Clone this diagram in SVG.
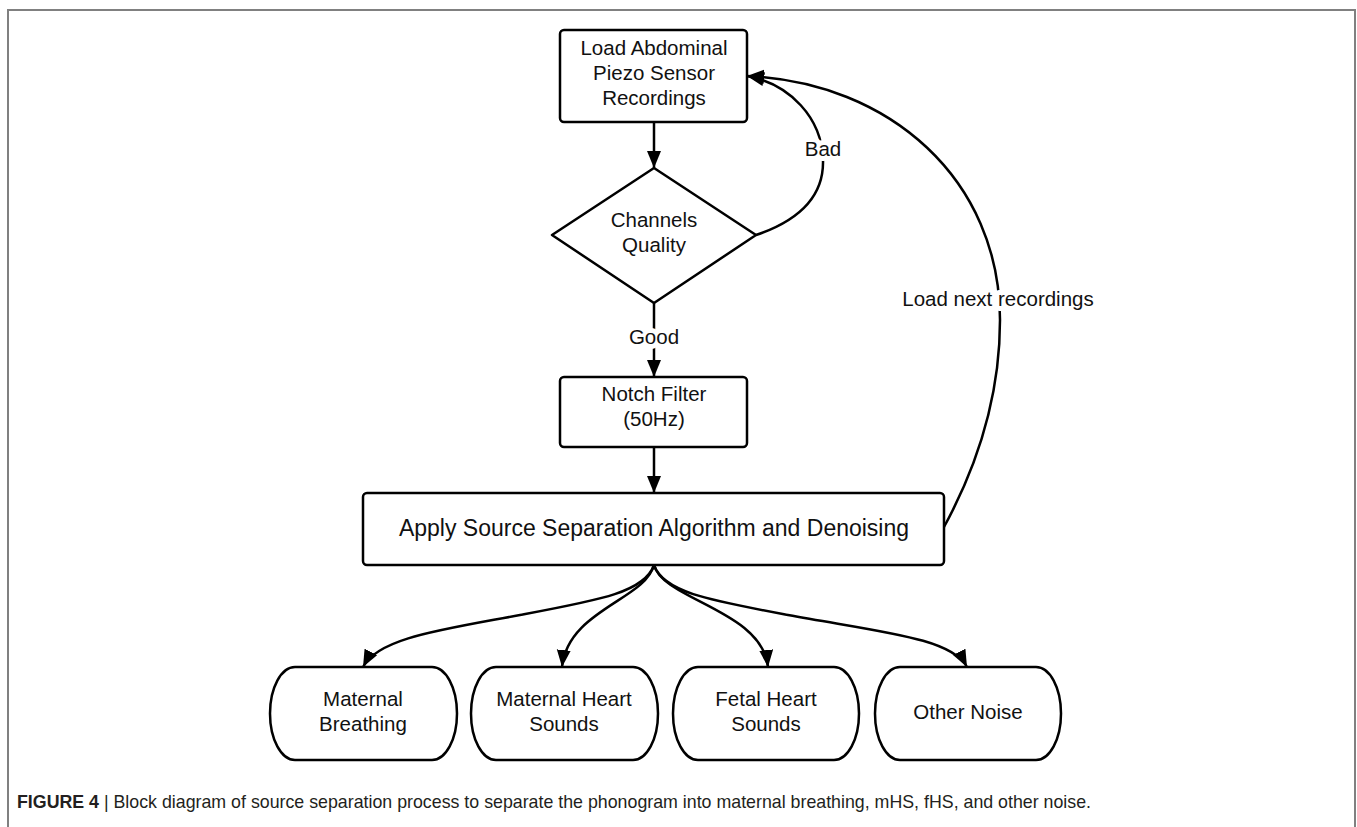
<svg xmlns="http://www.w3.org/2000/svg" width="1357" height="827" viewBox="0 0 1357 827">
<style>
.box{fill:#fff;stroke:#000;stroke-width:2.5;stroke-linejoin:round}
.t{font-family:"Liberation Sans",Arial,sans-serif;font-size:20.5px;fill:#111;text-anchor:middle}
.lbl{paint-order:stroke;stroke:#fff;stroke-width:10px;stroke-linejoin:round}
.c{fill:none;stroke:#000;stroke-width:2.5}
.frame{fill:none;stroke:#808080;stroke-width:2}
.cap{font-family:"Liberation Sans",Arial,sans-serif;font-size:17.8px;fill:#231f20}
</style>
<defs>
<marker id="ah" markerUnits="userSpaceOnUse" markerWidth="18" markerHeight="15" refX="17" refY="7" orient="auto">
<path d="M0,0 L17,7 L0,14 z" fill="#000"/>
</marker>
</defs>
<rect width="1357" height="827" fill="#fff"/>
<path class="frame" d="M8,827 V10 H1355 V827"/>

<g id="connectors">
<path class="c" d="M654,122 V168" marker-end="url(#ah)"/>
<path class="c" d="M654,303 V377" marker-end="url(#ah)"/>
<path class="c" d="M654,447 V493" marker-end="url(#ah)"/>
<path class="c" d="M756,235 C800,220 824,195 823,160 C822,118 790,84 747,76" marker-end="url(#ah)"/>
<path class="c" d="M944,527 C975,470 1000,400 1000,320 C1000,180 890,82 747,76" marker-end="url(#ah)"/>
<path class="c" d="M654,565 C645,592 600,600 520,615 C440,630 378,638 363,667" marker-end="url(#ah)"/>
<path class="c" d="M654,565 C645,600 568,610 562,667" marker-end="url(#ah)"/>
<path class="c" d="M654,565 C663,600 762,610 768,667" marker-end="url(#ah)"/>
<path class="c" d="M654,565 C663,592 708,600 788,615 C880,632 952,638 967,667" marker-end="url(#ah)"/>
<text class="t lbl" x="654" y="344">Good</text>
<text class="t lbl" x="823" y="156">Bad</text>
<text class="t lbl" x="998" y="306">Load next recordings</text>
</g>

<g id="load">
<rect class="box" x="560" y="30" width="187" height="92" rx="4"/>
<text class="t" x="654" y="55">Load Abdominal</text>
<text class="t" x="654" y="80">Piezo Sensor</text>
<text class="t" x="654" y="105">Recordings</text>
</g>
<g id="quality">
<path class="box" d="M654,168 L756,235 L654,303 L552,235 Z"/>
<text class="t" x="654" y="227">Channels</text>
<text class="t" x="654" y="252">Quality</text>
</g>
<g id="notch">
<rect class="box" x="560" y="377" width="187" height="70" rx="4"/>
<text class="t" x="654" y="401">Notch Filter</text>
<text class="t" x="654" y="426">(50Hz)</text>
</g>
<g id="separation">
<rect class="box" x="363" y="493" width="581" height="72" rx="4"/>
<text class="t" x="654" y="536" style="font-size:23px">Apply Source Separation Algorithm and Denoising</text>
</g>
<g id="breathing">
<rect class="box" x="270" y="667" width="187" height="93" rx="25" ry="46.5"/>
<text class="t" x="363" y="706">Maternal</text>
<text class="t" x="363" y="731">Breathing</text>
</g>
<g id="mhs">
<rect class="box" x="471" y="667" width="187" height="93" rx="25" ry="46.5"/>
<text class="t" x="564" y="706">Maternal Heart</text>
<text class="t" x="564" y="731">Sounds</text>
</g>
<g id="fhs">
<rect class="box" x="673" y="667" width="186" height="93" rx="25" ry="46.5"/>
<text class="t" x="766" y="706">Fetal Heart</text>
<text class="t" x="766" y="731">Sounds</text>
</g>
<g id="noise">
<rect class="box" x="875" y="667" width="186" height="93" rx="25" ry="46.5"/>
<text class="t" x="968" y="719">Other Noise</text>
</g>

<text class="cap" x="17" y="808"><tspan font-weight="bold">FIGURE 4</tspan> | Block diagram of source separation process to separate the phonogram into maternal breathing, mHS, fHS, and other noise.</text>
</svg>
